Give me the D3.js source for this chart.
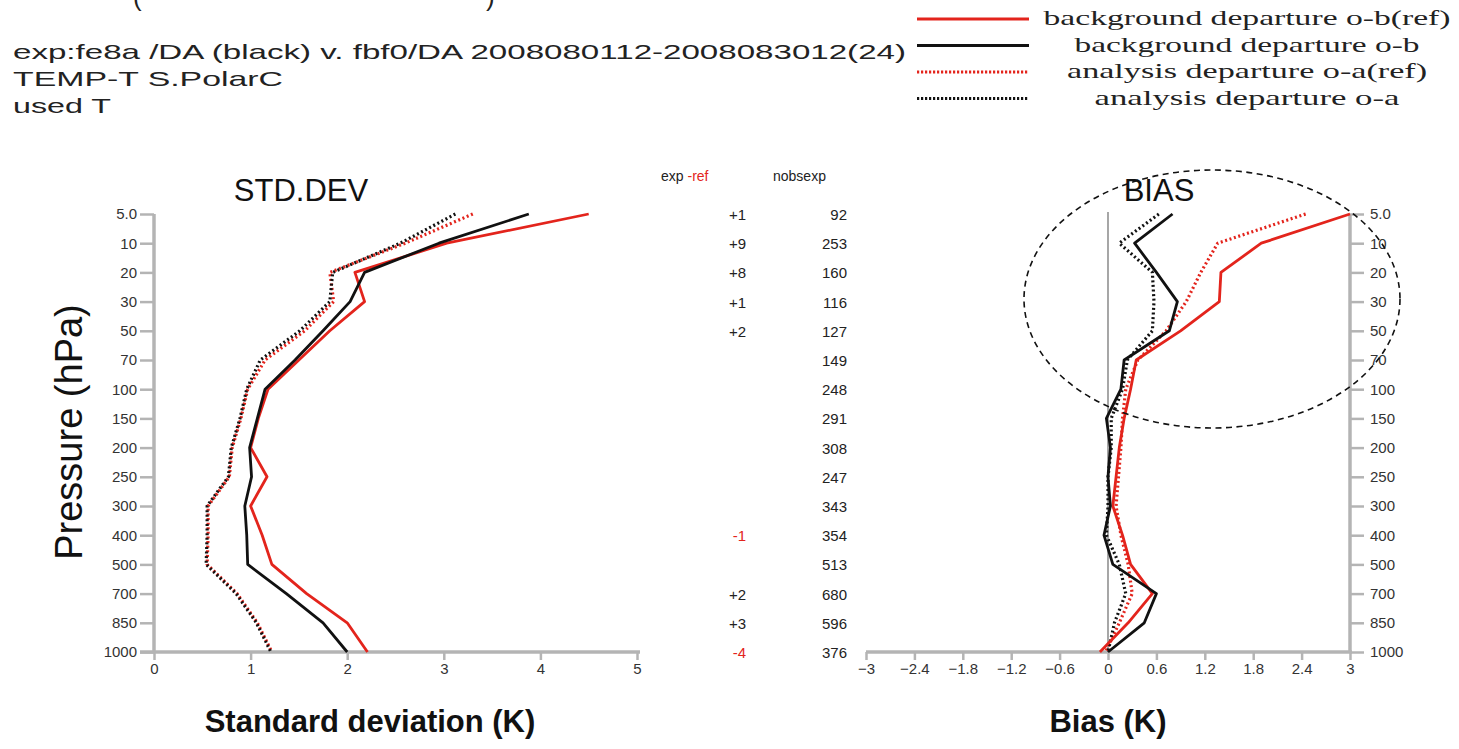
<!DOCTYPE html>
<html><head><meta charset="utf-8">
<script src="https://cdn.jsdelivr.net/npm/d3@7"></script>
<style>
body{margin:0;background:#fff;}
svg{display:block;}
text{font-family:"Liberation Sans",Arial,sans-serif;}
</style></head>
<body>
<svg id="c" width="1459" height="749"></svg>
<script>
// ---- data ----
const levels = ["5.0","10","20","30","50","70","100","150","200","250","300","400","500","700","850","1000"];
const stdBgRef = [4.50,3.03,2.08,2.18,1.82,1.50,1.18,1.08,1.00,1.17,1.00,1.12,1.22,1.58,2.00,2.21];
const stdBg    = [3.88,2.95,2.18,2.03,1.75,1.46,1.15,1.07,0.99,1.01,0.94,0.96,0.97,1.37,1.75,2.00];
const stdAnRef = [3.30,2.60,1.82,1.86,1.56,1.15,0.97,0.90,0.81,0.78,0.56,0.56,0.55,0.86,1.07,1.22];
const stdAn    = [3.12,2.55,1.85,1.82,1.51,1.10,0.96,0.89,0.80,0.77,0.55,0.55,0.54,0.85,1.06,1.21];
const biasBgRef = [3.00,1.90,1.40,1.38,0.90,0.35,0.28,0.20,0.14,0.10,0.06,0.18,0.28,0.55,0.25,-0.10];
const biasBg    = [0.80,0.33,0.60,0.86,0.76,0.20,0.16,-0.02,0.03,0.00,0.03,-0.05,0.06,0.60,0.45,0.00];
const biasAnRef = [2.45,1.36,1.15,0.97,0.72,0.37,0.22,0.18,0.16,0.13,0.10,0.16,0.25,0.30,0.14,-0.03];
const biasAn    = [0.63,0.14,0.55,0.57,0.55,0.24,0.18,0.04,0.04,0.00,0.00,-0.02,0.14,0.22,0.08,0.00];
const expMinusRef = ["+1","+9","+8","+1","+2","","","","","","","-1","","+2","+3","-4"];
const nobsExp = [92,253,160,116,127,149,248,291,308,247,343,354,513,680,596,376];
const stdTicks = [0,1,2,3,4,5];
const biasTicks = [-3,-2.4,-1.8,-1.2,-0.6,0,0.6,1.2,1.8,2.4,3];
const legendLabels = ["background departure o-b(ref)","background departure o-b","analysis departure o-a(ref)","analysis departure o-a"];
const headerLines = ["exp:fe8a /DA (black)  v. fbf0/DA 2008080112-2008083012(24)","TEMP-T  S.PolarC","used T"];

// ---- styles ----
const RED = "#e3241c", BLK = "#111", GREY = "#b4b4b4", TXT = "#333";
const series = [
  {std: stdBgRef, bias: biasBgRef, color: RED, dash: null},
  {std: stdBg,    bias: biasBg,    color: BLK, dash: null},
  {std: stdAnRef, bias: biasAnRef, color: RED, dash: "2,2.6"},
  {std: stdAn,    bias: biasAn,    color: BLK, dash: "2,2.6"}
];

const svg = d3.select("#c");
const y = d3.scalePoint().domain(levels).range([214, 652]);
const xs = d3.scaleLinear().domain([0,5]).range([154, 637]);
const xb = d3.scaleLinear().domain([-3,3]).range([866, 1350]);

// header
const hdrW = [893, 270, 98];
headerLines.forEach((t,i)=>{
  svg.append("text").attr("x",13).attr("y",59+i*27).attr("font-size",21).attr("fill","#222")
    .attr("textLength",hdrW[i]).attr("lengthAdjust","spacingAndGlyphs").text(t);
});
// cut-off top title fragments
svg.append("text").attr("x",133).attr("y",6).attr("font-size",26).attr("fill","#222").text("(");
svg.append("text").attr("x",486).attr("y",6).attr("font-size",26).attr("fill","#222").text(")");

// legend
const legW = [407, 345, 360, 305];
series.forEach((s,i)=>{
  const ly = 19 + i*26.5;
  svg.append("line").attr("x1",917).attr("x2",1029).attr("y1",ly).attr("y2",ly)
    .attr("stroke",s.color).attr("stroke-width",3).attr("stroke-dasharray",s.dash ? "2.2,1.8" : null);
  svg.append("text").attr("x",1247).attr("y",ly+6).attr("text-anchor","middle")
    .attr("font-size",21).attr("fill","#222").style("font-family","'Liberation Serif','DejaVu Serif',serif")
    .attr("textLength",legW[i]).attr("lengthAdjust","spacingAndGlyphs").text(legendLabels[i]);
});

// titles
svg.append("text").attr("x",301).attr("y",201).attr("text-anchor","middle").attr("font-size",31).attr("fill","#111").text("STD.DEV");
svg.append("text").attr("x",1159).attr("y",201).attr("text-anchor","middle").attr("font-size",31).attr("fill","#111").text("BIAS");

// ---- STD axes ----
const gsy = svg.append("g").attr("transform","translate(154,0)")
  .call(d3.axisLeft(y).tickSize(14).tickPadding(3));
const gsx = svg.append("g").attr("transform","translate(0,652)")
  .call(d3.axisBottom(xs).tickValues(stdTicks).tickSize(8).tickPadding(3).tickFormat(d3.format("d")));
[gsy,gsx].forEach(g=>{
  g.select(".domain").attr("stroke",GREY).attr("stroke-width",3.5);
  g.selectAll(".tick line").attr("stroke",GREY).attr("stroke-width",2.5);
  g.selectAll(".tick text").attr("fill",TXT).attr("font-size",15).style("font-family","'Liberation Sans',Arial,sans-serif");
});
gsy.select(".domain").attr("d","M0,214V652");
gsx.select(".domain").attr("d","M140,0H640");

// ---- BIAS axes ----
const gby = svg.append("g").attr("transform","translate(1350,0)")
  .call(d3.axisRight(y).tickSize(14).tickPadding(6));
const gbx = svg.append("g").attr("transform","translate(0,652)")
  .call(d3.axisBottom(xb).tickValues(biasTicks).tickSize(8).tickPadding(3).tickFormat(d=>d3.format("")(+d.toFixed(1))));
[gby,gbx].forEach(g=>{
  g.select(".domain").attr("stroke",GREY).attr("stroke-width",3.5);
  g.selectAll(".tick line").attr("stroke",GREY).attr("stroke-width",2.5);
  g.selectAll(".tick text").attr("fill",TXT).attr("font-size",15).style("font-family","'Liberation Sans',Arial,sans-serif");
});
gby.select(".domain").attr("d","M0,214V652");
gbx.select(".domain").attr("d","M866,0H1352");
// zero line
svg.append("line").attr("x1",xb(0)).attr("x2",xb(0)).attr("y1",212).attr("y2",652)
  .attr("stroke","#777").attr("stroke-width",1.3);

// ---- lines ----
const order = [2,3,0,1];
order.forEach(i=>{
  const s = series[i];
  const ls = d3.line().x((d,k)=>xs(d)).y((d,k)=>y(levels[k]));
  const lb = d3.line().x((d,k)=>xb(d)).y((d,k)=>y(levels[k]));
  svg.append("path").attr("d",ls(s.std)).attr("fill","none").attr("stroke",s.color)
    .attr("stroke-width",s.dash?3.2:2.8).attr("stroke-dasharray",s.dash).attr("stroke-linejoin","round");
  svg.append("path").attr("d",lb(s.bias)).attr("fill","none").attr("stroke",s.color)
    .attr("stroke-width",s.dash?3.2:2.8).attr("stroke-dasharray",s.dash).attr("stroke-linejoin","round");
});

// ---- middle columns ----
const hdr = svg.append("text").attr("x",661).attr("y",181).attr("font-size",14).attr("fill","#222");
hdr.append("tspan").text("exp ");
hdr.append("tspan").attr("fill",RED).text("-ref");
svg.append("text").attr("x",773).attr("y",181).attr("font-size",14).attr("fill","#222").text("nobsexp");
levels.forEach((l,k)=>{
  const v = expMinusRef[k];
  if(v) svg.append("text").attr("x",746).attr("y",y(l)+6).attr("text-anchor","end").attr("font-size",15)
    .attr("fill", v.startsWith("-") ? RED : "#222").text(v);
  svg.append("text").attr("x",847).attr("y",y(l)+6).attr("text-anchor","end").attr("font-size",15)
    .attr("fill","#222").text(nobsExp[k]);
});

// ---- axis titles ----
svg.append("text").attr("transform","translate(82,432) rotate(-90)").attr("text-anchor","middle")
  .attr("font-size",38).attr("fill","#111").text("Pressure (hPa)");
svg.append("text").attr("x",370).attr("y",732).attr("text-anchor","middle").attr("font-size",31)
  .attr("font-weight","bold").attr("fill","#111").text("Standard deviation (K)");
svg.append("text").attr("x",1108).attr("y",732).attr("text-anchor","middle").attr("font-size",31)
  .attr("font-weight","bold").attr("fill","#111").text("Bias (K)");

// ---- dashed ellipse annotation ----
svg.append("ellipse").attr("cx",1212).attr("cy",299).attr("rx",188).attr("ry",129)
  .attr("fill","none").attr("stroke","#111").attr("stroke-width",1.6).attr("stroke-dasharray","6,4.5");
</script>
</body></html>
